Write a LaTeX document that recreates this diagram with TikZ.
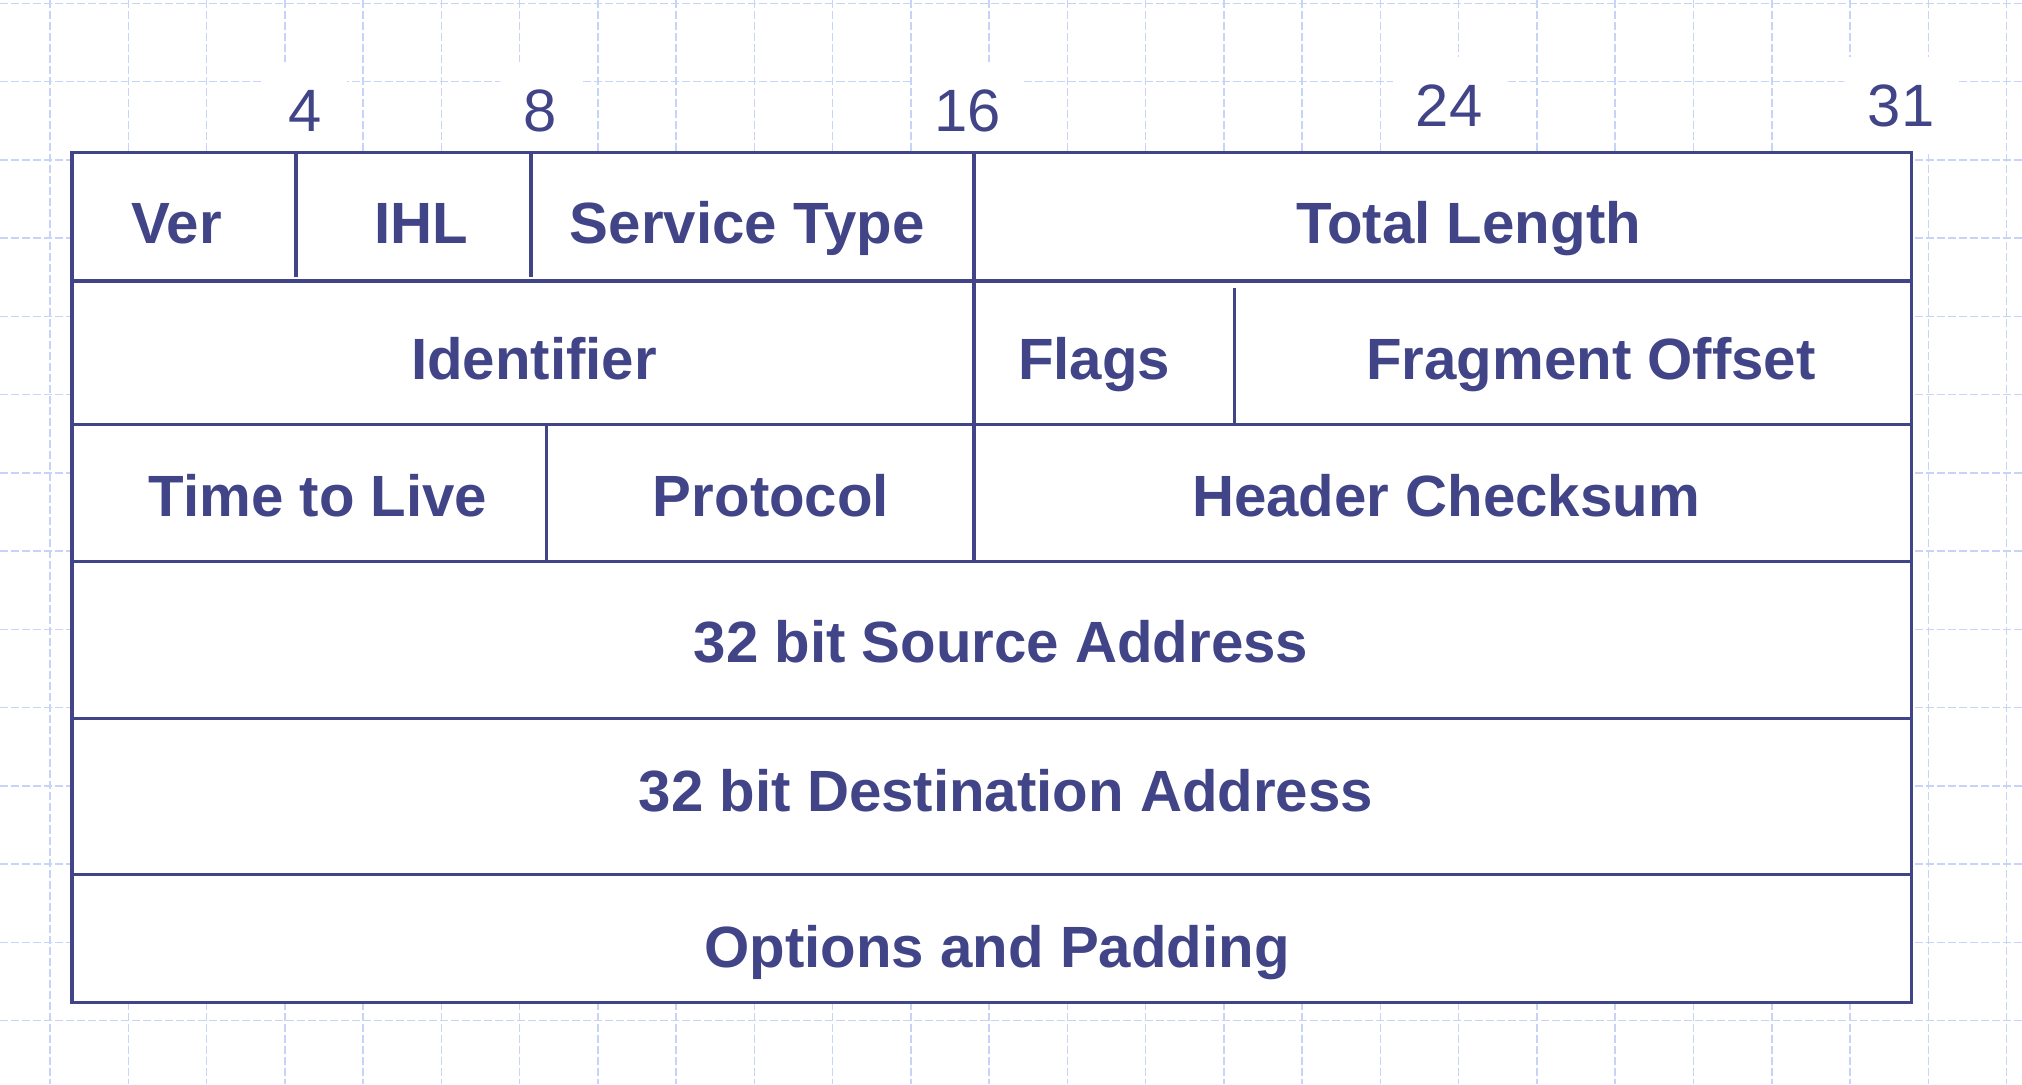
\documentclass[tikz,border=0pt]{standalone}
\usepackage{fontspec}
\setmainfont{Liberation Sans}
\definecolor{ink}{RGB}{65,69,135}
\definecolor{gridblue}{RGB}{200,211,248}
\begin{document}
\begin{tikzpicture}[x=0.01cm,y=-0.01cm,
  gridline/.style={draw=gridblue, line width=0.015cm, dash pattern=on 0.08cm off 0.03cm},
  rule/.style={draw=ink, line width=0.031cm},
  bitnum/.style={fill=white, inner sep=0pt, text=ink,
    font=\fontsize{17pt}{20pt}\selectfont, minimum height=0.97cm},
  field/.style={anchor=base, text=ink, inner sep=0pt,
    font=\bfseries\fontsize{16.55pt}{20pt}\selectfont}]
\useasboundingbox (0,0) rectangle (2022,1084);
\fill[white] (0,0) rectangle (2022,1084);

% squared paper background
\foreach \k in {0,...,25}
  \draw[gridline] ({50+78.26*\k},0) -- ({50+78.26*\k},1084);
\foreach \k in {0,...,13}
  \draw[gridline] (0,{3.3+78.26*\k}) -- (2022,{3.3+78.26*\k});

% bit positions above the header
\node[bitnum, minimum width=0.84cm] (b4)  at (305,110.5)  {4};
\node[bitnum, minimum width=0.80cm] (b8)  at (540,110.5)  {8};
\node[bitnum, minimum width=1.11cm] (b16) at (967.5,110.5) {16};
\node[bitnum, minimum width=1.12cm] (b24) at (1449,105.5) {24};
\node[bitnum, minimum width=1.15cm] (b31) at (1901,105.5) {31};

% header frame
\fill[white] (72,152.5) rectangle (1911.7,1002.7);
\draw[rule] (72,152.5) rectangle (1911.7,1002.7);
\foreach \y in {281,424.3,561.7,718.3,874.7}
  \draw[rule] (72,\y) -- (1911.7,\y);

% field separators
\draw[rule] (296,152.5) -- (296,277);
\draw[rule] (531,152.5) -- (531,277);
\draw[rule] (974,152.5) -- (974,561.7);
\draw[rule] (1234.7,287.7) -- (1234.7,424.3);
\draw[rule] (546.7,424.3) -- (546.7,561.7);

% field names
\node[field] (ver)   at (176.5,243) {Ver};
\node[field] (ihl)   at (421,243)   {IHL};
\node[field] (tos)   at (747.3,243) {Service Type};
\node[field] (tlen)  at (1468.5,243) {Total Length};
\node[field] (ident) at (534,379)   {Identifier};
\node[field] (flags) at (1094,379)  {Flags};
\node[field] (frag)  at (1591,379)  {Fragment Offset};
\node[field] (ttl)   at (318,516)   {Time to Live};
\node[field] (proto) at (771,516)   {Protocol};
\node[field] (csum)  at (1446,516)  {Header Checksum};
\node[field] (src)   at (1001,662)  {32 bit Source Address};
\node[field] (dst)   at (1006,811)  {32 bit Destination Address};
\node[field] (opts)  at (997,967)   {Options and Padding};
\end{tikzpicture}
\end{document}
